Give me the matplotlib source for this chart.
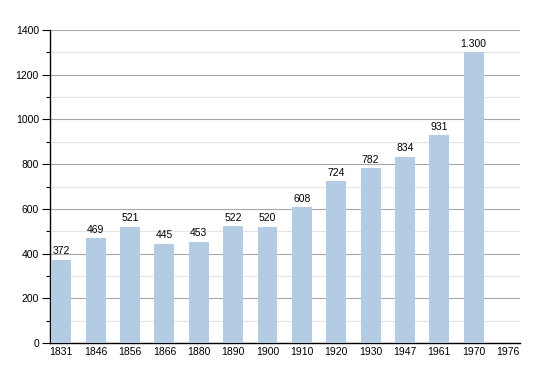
import matplotlib
matplotlib.use('Agg')
import matplotlib.pyplot as plt
import numpy as np
from matplotlib.ticker import MultipleLocator

years = ['1831', '1846', '1856', '1866', '1880', '1890', '1900', '1910',
         '1920', '1930', '1947', '1961', '1970', '1976']
population = [372, 469, 521, 445, 453, 522, 520, 608, 724, 782, 834, 931, 1300, None]
labels = ['372', '469', '521', '445', '453', '522', '520', '608', '724', '782',
          '834', '931', '1.300', '']

plt.rcParams['font.family'] = ['Liberation Sans', 'DejaVu Sans']

fig = plt.figure(figsize=(5.5, 3.73), dpi=100)
ax = fig.add_axes([50 / 550, 30 / 373, 470 / 550, 313 / 373])

x = np.arange(len(years))
vals = [v if v is not None else 0 for v in population]
ax.bar(x, vals, width=0.58, color='#b3cce4', zorder=3)

for xi, v, lab in zip(x, vals, labels):
    if lab:
        ax.text(xi, v + 15, lab, ha='center', va='bottom', fontsize=7.5, zorder=4)

ax.set_xlim(-0.33, 13.35)
ax.set_ylim(0, 1400)
ax.yaxis.set_major_locator(MultipleLocator(200))
ax.yaxis.set_minor_locator(MultipleLocator(100))
ax.grid(which='major', axis='y', color='#a8a8a8', linewidth=0.8, zorder=1)
ax.grid(which='minor', axis='y', color='#e4e4e4', linewidth=0.8, zorder=1)
ax.set_xticks(x)
ax.set_xticklabels(years)
ax.tick_params(axis='x', length=0, labelsize=7.5, pad=3)
ax.tick_params(axis='y', which='major', length=6, width=0.8, labelsize=7.5, pad=2)
ax.tick_params(axis='y', which='minor', length=3, width=0.8)

for s in ['top', 'right']:
    ax.spines[s].set_visible(False)
ax.spines['left'].set_linewidth(1)
ax.spines['bottom'].set_linewidth(1)

fig.savefig('out.png', dpi=100)
